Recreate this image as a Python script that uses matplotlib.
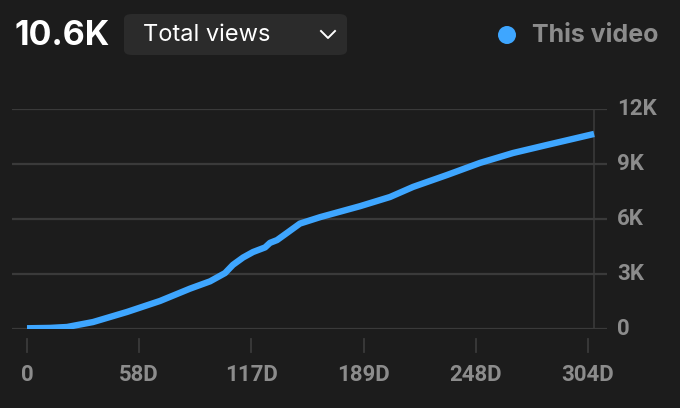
import numpy as np
import matplotlib.pyplot as plt
from matplotlib.patches import FancyBboxPatch, Ellipse

# 数据：天数与累计观看量
days = [0, 12.5, 21.7, 35.8, 54.2, 72.1, 88.3, 99.2, 107.3, 111.6, 117.1, 122.5,
        129.0, 131.7, 135.5, 140.9, 147.9, 158.8, 180.5, 196.7, 209.2, 227.6,
        245.5, 263.4, 281.8, 307.3]
views = [40, 60, 110, 380, 930, 1530, 2200, 2600, 3050, 3500, 3900, 4200,
         4450, 4700, 4850, 5240, 5750, 6100, 6700, 7200, 7750, 8400,
         9060, 9600, 10040, 10640]
x_ticks = np.linspace(0, 304, 6)
x_labels = ['0', '58D', '117D', '189D', '248D', '304D']
y_ticks = [0, 3000, 6000, 9000, 12000]
y_labels = ['0', '3K', '6K', '9K', '12K']

bg = '#1c1c1c'
grid_c = '#3a3a3a'
label_c = '#8c8c8c'
blue = '#3ea6ff'

W, H = 680, 408
fig = plt.figure(figsize=(6.8, 4.08), dpi=100, facecolor=bg)

# 坐标区域（像素换算）
left, right, top, bottom = 12, 607, 109, 329
ax = fig.add_axes([left / W, (H - bottom) / H, (right - left) / W, (bottom - top) / H])
ax.set_facecolor(bg)
ppd = (588 - 27) / 304
ax.set_xlim(-(27 - left) / ppd, 304 + (right - 588) / ppd)
ax.set_ylim(0, 12000)

for v in y_ticks:
    ax.axhline(v, color=grid_c, lw=1.6, zorder=1)
ax.axvline(days[-1], color=grid_c, lw=1.2, zorder=1)

ax.plot(days, views, color=blue, lw=4.6, solid_capstyle='butt',
        solid_joinstyle='round', zorder=3)

for s in ax.spines.values():
    s.set_visible(False)
ax.set_xticks([])
ax.set_yticks([])

font = 'Roboto'
for v, lab in zip(y_ticks, y_labels):
    ax.text(1 + 10 / (right - left), v, lab, transform=ax.get_yaxis_transform(),
            ha='left', va='center', fontsize=16, fontweight='bold',
            color=label_c, family=font)

# x 轴刻度与标签
for xt, lab in zip(x_ticks, x_labels):
    ax.plot([xt, xt], [-10 / 220 * 12000, -23 / 220 * 12000], color=grid_c, lw=1.3,
            clip_on=False)
    ax.text(xt, -46 / 220 * 12000, lab, ha='center', va='center', fontsize=16,
            fontweight='bold', color=label_c, family=font)

# 顶部标题与下拉框
fig.text(15 / W, 1 - 36 / H, '10.6K', ha='left', va='center', fontsize=24.5,
         fontweight='bold', color='white', family='Inter')
box = FancyBboxPatch((124 / W, 1 - 55 / H), 223 / W, 41 / H,
                     boxstyle='round,pad=0,rounding_size=0.012',
                     transform=fig.transFigure, facecolor='#2b2b2b', edgecolor='none')
fig.patches.append(box)
fig.text(143 / W, 1 - 35 / H, 'Total views', ha='left', va='center', fontsize=17,
         color='white', family='Inter')
fig.lines.append(plt.Line2D([321 / W, 328 / W, 335 / W],
                            [1 - 31 / H, 1 - 38 / H, 1 - 31 / H],
                            transform=fig.transFigure, color='white', lw=1.4))

# 图例
fig.patches.append(Ellipse((507 / W, 1 - 35 / H), 18 / W, 18 / H,
                           transform=fig.transFigure, facecolor=blue, edgecolor='none'))
fig.text(532 / W, 1 - 35 / H, 'This video', ha='left', va='center', fontsize=18,
         fontweight='bold', color=label_c, family='Inter')

fig.savefig('out.png', dpi=100, facecolor=bg)
